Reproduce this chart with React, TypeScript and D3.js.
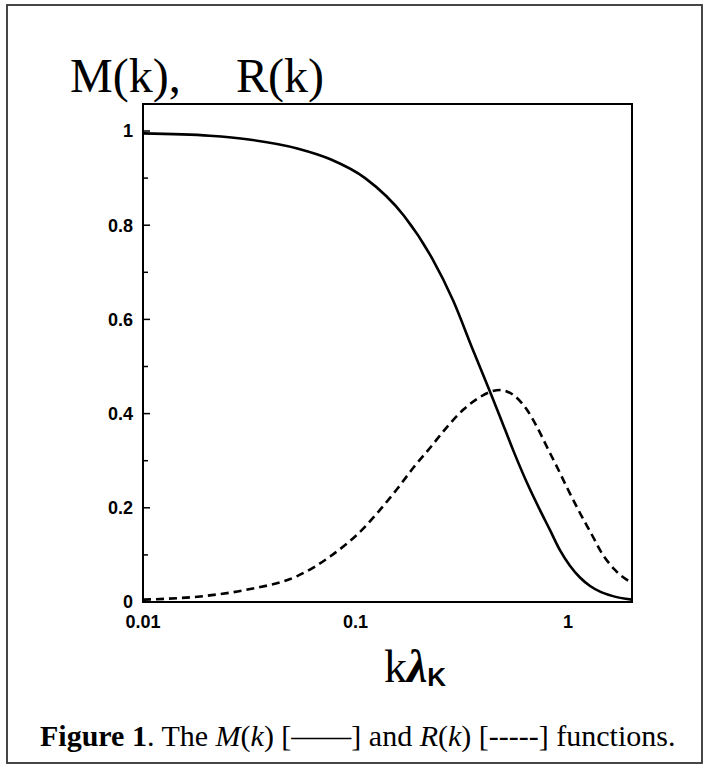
import React, { useEffect, useRef } from "react";
import * as d3 from "d3";

const mK = [0.01, 0.0206, 0.0315, 0.0532, 0.0762, 0.111, 0.169, 0.229, 0.288, 0.357, 0.43, 0.479, 0.551, 0.641, 0.738, 0.822, 0.916, 1.021, 1.138, 1.27, 1.415, 1.611, 2.0];
const mValues = [0.995, 0.99, 0.982, 0.963, 0.94, 0.9, 0.82, 0.73, 0.64, 0.535, 0.446, 0.393, 0.323, 0.253, 0.195, 0.153, 0.11, 0.077, 0.052, 0.034, 0.022, 0.013, 0.005];
const rK = [0.01, 0.0206, 0.0315, 0.0532, 0.0762, 0.111, 0.13, 0.157, 0.187, 0.224, 0.27, 0.321, 0.385, 0.43, 0.479, 0.551, 0.641, 0.714, 0.796, 0.887, 0.989, 1.138, 1.312, 1.415, 1.664, 2.0];
const rValues = [0.005, 0.014, 0.027, 0.055, 0.097, 0.16, 0.195, 0.24, 0.285, 0.327, 0.372, 0.408, 0.435, 0.446, 0.45, 0.44, 0.408, 0.372, 0.329, 0.287, 0.243, 0.189, 0.138, 0.11, 0.068, 0.04];
const yTickValues = [0, 0.2, 0.4, 0.6, 0.8, 1];
const yTickLabels = ["0", "0.2", "0.4", "0.6", "0.8", "1"];
const xTickValues = [0.01, 0.1, 1];
const xTickLabels = ["0.01", "0.1", "1"];

const W = 709;
const H = 769;
const left = 143, right = 632, top = 104, bottom = 602;

export default function App() {
  const ref = useRef<SVGSVGElement>(null);
  useEffect(() => {
    const svg = d3.select(ref.current);
    svg.selectAll("*").remove();
    const x = d3.scaleLog().domain([0.01, 2.0]).range([left, right]);
    const y = d3.scaleLinear().domain([0, 1]).range([bottom, 131]);

    svg.append("rect").attr("x", 7).attr("y", 5).attr("width", 695).attr("height", 758)
      .attr("fill", "none").attr("stroke", "#333").attr("stroke-width", 1.8);

    svg.append("text").attr("x", 70).attr("y", 92)
      .attr("font-family", "Liberation Serif").attr("font-size", 48)
      .text("M(k),");
    svg.append("text").attr("x", 236).attr("y", 92)
      .attr("font-family", "Liberation Serif").attr("font-size", 48)
      .text("R(k)");

    const clip = svg.append("defs").append("clipPath").attr("id", "c");
    clip.append("rect").attr("x", left).attr("y", top).attr("width", right - left).attr("height", bottom - top);

    const line = (ks: number[]) => d3.line<number>().x((d, i) => x(ks[i])).y(d => y(d)).curve(d3.curveMonotoneX);
    const g = svg.append("g").attr("clip-path", "url(#c)");
    g.append("path").attr("d", line(mK)(mValues)!).attr("fill", "none").attr("stroke", "#000").attr("stroke-width", 2.6);
    g.append("path").attr("d", line(rK)(rValues)!).attr("fill", "none").attr("stroke", "#000").attr("stroke-width", 2.6)
      .attr("stroke-dasharray", "8,5");

    svg.append("rect").attr("x", left).attr("y", top).attr("width", right - left).attr("height", bottom - top)
      .attr("fill", "none").attr("stroke", "#000").attr("stroke-width", 2);

    const minor = d3.range(0, 11).map(i => i / 10);
    svg.append("g").selectAll("line").data(minor).join("line")
      .attr("x1", left).attr("x2", d => left + (Math.round(d * 10) % 2 === 0 ? 7 : 5))
      .attr("y1", d => y(d)).attr("y2", d => y(d)).attr("stroke", "#000").attr("stroke-width", 1.5);
    svg.append("g").selectAll("text").data(yTickValues).join("text")
      .attr("x", 133).attr("y", d => y(d)).attr("dy", "0.36em").attr("text-anchor", "end")
      .attr("font-family", "Liberation Sans").attr("font-weight", "bold").attr("font-size", 18)
      .text((d, i) => yTickLabels[i]);

    svg.append("g").selectAll("text").data(xTickValues).join("text")
      .attr("x", d => x(d)).attr("y", 628).attr("text-anchor", "middle")
      .attr("font-family", "Liberation Sans").attr("font-weight", "bold").attr("font-size", 18)
      .text((d, i) => xTickLabels[i]);

    const xl = svg.append("text").attr("x", 415).attr("y", 682).attr("text-anchor", "middle");
    xl.append("tspan").attr("font-family", "Liberation Serif").attr("font-size", 46).text("k");
    xl.append("tspan").attr("font-family", "Liberation Serif").attr("font-style", "italic").attr("font-weight", "bold").attr("font-size", 46).text("λ");
    xl.append("tspan").attr("font-family", "Liberation Sans").attr("font-weight", "bold").attr("font-size", 26).attr("dy", 4).text("K");

    const cap = svg.append("text").attr("x", 40).attr("y", 746)
      .attr("font-family", "Liberation Serif").attr("font-size", 30);
    cap.append("tspan").attr("font-weight", "bold").text("Figure 1");
    cap.append("tspan").text(". The ");
    cap.append("tspan").attr("font-style", "italic").text("M");
    cap.append("tspan").text("(");
    cap.append("tspan").attr("font-style", "italic").text("k");
    cap.append("tspan").text(") [\u2014\u2014] and ");
    cap.append("tspan").attr("font-style", "italic").text("R");
    cap.append("tspan").text("(");
    cap.append("tspan").attr("font-style", "italic").text("k");
    cap.append("tspan").text(") [-----] functions.");
  }, []);
  return (
    <svg ref={ref} width={W} height={H} style={{ position: "absolute", left: 0, top: 0, background: "#fff" }} />
  );
}
